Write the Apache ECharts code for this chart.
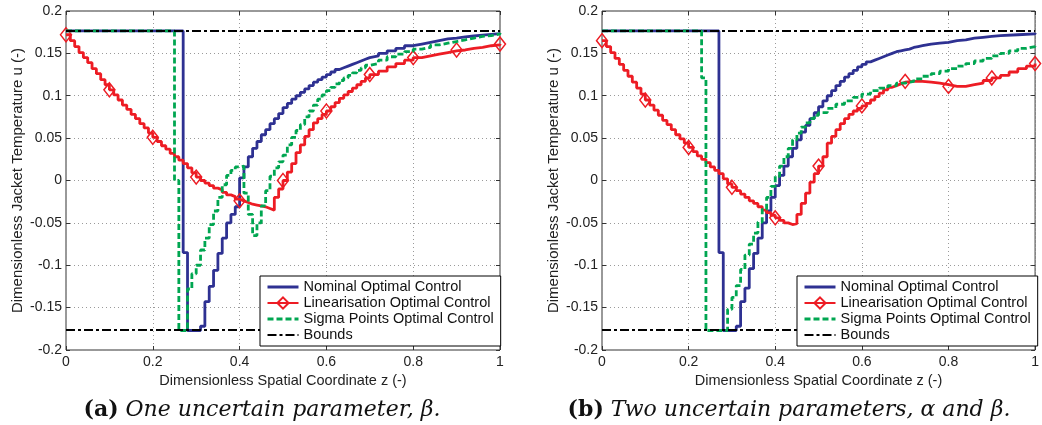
<!DOCTYPE html>
<html>
<head>
<meta charset="utf-8">
<script src="https://cdn.jsdelivr.net/npm/echarts@6/dist/echarts.min.js"></script>
<style>
    html, body { margin: 0; padding: 0; background: #fff; }
    #chart { width: 1042px; height: 425px; }
</style>
</head>
<body>
<div id="chart"></div>
<script>
// series names / legend
const seriesNames = ['Nominal Optimal Control', 'Linearisation Optimal Control', 'Sigma Points Optimal Control', 'Bounds'];
const xTicks = [0, 0.2, 0.4, 0.6, 0.8, 1];
const yTicks = [-0.2, -0.15, -0.1, -0.05, 0, 0.05, 0.1, 0.15, 0.2];
const captions = ['(a)|One uncertain parameter, β.', '(b)|Two uncertain parameters, α and β.'];
const bound = 0.1765;

// (a) one uncertain parameter -- [z, u], value held until next z
const nominalA = [[0,0.1765],[0.27,-0.085],[0.28,-0.177],[0.31,-0.172],[0.32,-0.143],[0.33,-0.125],[0.34,-0.106],
    [0.35,-0.086],[0.36,-0.068],[0.37,-0.05],[0.38,-0.04],[0.39,-0.031],[0.40,0.003],[0.41,0.016],[0.42,0.028],
    [0.43,0.038],[0.44,0.046],[0.45,0.054],[0.46,0.06],[0.47,0.067],[0.48,0.073],[0.49,0.079],[0.50,0.086],
    [0.51,0.091],[0.52,0.096],[0.53,0.100],[0.54,0.104],[0.55,0.108],[0.56,0.112],[0.57,0.116],[0.58,0.119],
    [0.59,0.122],[0.60,0.125],[0.61,0.128],[0.62,0.131],[0.63,0.133],[0.64,0.135],[0.65,0.137],[0.66,0.139],
    [0.67,0.141],[0.68,0.143],[0.69,0.145],[0.70,0.147],[0.72,0.150],[0.74,0.153],[0.76,0.156],[0.78,0.159],
    [0.80,0.161],[0.82,0.163],[0.84,0.165],[0.86,0.167],[0.88,0.168],[0.90,0.1695],[0.92,0.1705],[0.94,0.1715],
    [0.96,0.1725],[0.98,0.1733],[1.0,0.174]];
const linearA = [[0,0.172],[0.01,0.165],[0.02,0.158],[0.03,0.151],[0.04,0.145],[0.05,0.139],[0.06,0.132],[0.07,0.126],
    [0.08,0.119],[0.09,0.113],[0.1,0.107],[0.11,0.101],[0.12,0.095],[0.13,0.089],[0.14,0.084],[0.15,0.078],
    [0.16,0.073],[0.17,0.067],[0.18,0.062],[0.19,0.056],[0.2,0.051],[0.21,0.046],[0.22,0.041],[0.23,0.037],
    [0.24,0.032],[0.25,0.028],[0.26,0.024],[0.27,0.020],[0.28,0.015],[0.29,0.009],[0.3,0.004],[0.31,0.0],
    [0.32,-0.003],[0.33,-0.006],[0.34,-0.009],[0.35,-0.011],[0.36,-0.014],[0.37,-0.017],[0.38,-0.019],
    [0.39,-0.022],[0.4,-0.024],[0.41,-0.026],[0.42,-0.028],[0.43,-0.029],[0.44,-0.030],[0.45,-0.031],
    [0.46,-0.033],[0.47,-0.035],[0.48,-0.02],[0.49,-0.01],[0.5,0.0],[0.51,0.01],[0.52,0.02],[0.53,0.033],
    [0.54,0.042],[0.55,0.052],[0.56,0.06],[0.57,0.068],[0.58,0.073],[0.59,0.078],[0.6,0.082],[0.61,0.087],
    [0.62,0.092],[0.63,0.097],[0.64,0.101],[0.65,0.105],[0.66,0.109],[0.67,0.113],[0.68,0.117],[0.69,0.121],
    [0.7,0.125],[0.72,0.129],[0.74,0.134],[0.76,0.138],[0.78,0.142],[0.8,0.145],[0.82,0.147],[0.84,0.149],
    [0.86,0.151],[0.88,0.153],[0.9,0.154],[0.92,0.156],[0.94,0.157],[0.96,0.159],[0.98,0.160],[1.0,0.161]];
const sigmaA = [[0,0.1765],[0.25,0.0],[0.26,-0.177],[0.28,-0.128],[0.29,-0.11],[0.30,-0.1],[0.31,-0.082],
    [0.32,-0.068],[0.33,-0.052],[0.34,-0.036],[0.35,-0.02],[0.36,-0.005],[0.37,0.006],[0.38,0.012],[0.39,0.016],
    [0.40,0.017],[0.41,-0.015],[0.42,-0.04],[0.43,-0.065],[0.44,-0.05],[0.45,-0.03],[0.46,-0.012],[0.47,0.005],
    [0.48,0.015],[0.49,0.022],[0.50,0.03],[0.51,0.042],[0.52,0.051],[0.53,0.059],[0.54,0.066],[0.55,0.075],
    [0.56,0.082],[0.57,0.089],[0.58,0.096],[0.59,0.101],[0.60,0.106],[0.61,0.110],[0.62,0.114],[0.63,0.118],
    [0.64,0.121],[0.65,0.124],[0.66,0.127],[0.67,0.130],[0.68,0.133],[0.69,0.136],[0.70,0.138],[0.72,0.142],
    [0.74,0.146],[0.76,0.149],[0.78,0.152],[0.80,0.155],[0.82,0.157],[0.84,0.160],[0.86,0.162],[0.88,0.164],
    [0.90,0.166],[0.92,0.168],[0.94,0.170],[0.96,0.171],[0.98,0.173],[1.0,0.174]];

// (b) two uncertain parameters
const nominalB = [[0,0.1765],[0.27,-0.085],[0.28,-0.177],[0.31,-0.172],[0.32,-0.143],[0.33,-0.127],[0.34,-0.104],
    [0.35,-0.086],[0.36,-0.068],[0.37,-0.05],[0.38,-0.036],[0.39,-0.02],[0.40,-0.006],[0.41,0.006],[0.42,0.017],
    [0.43,0.028],[0.44,0.038],[0.45,0.048],[0.46,0.057],[0.47,0.065],[0.48,0.073],[0.49,0.080],[0.50,0.087],
    [0.51,0.094],[0.52,0.100],[0.53,0.106],[0.54,0.112],[0.55,0.117],[0.56,0.122],[0.57,0.126],[0.58,0.130],
    [0.59,0.134],[0.60,0.137],[0.61,0.140],[0.62,0.142],[0.63,0.144],[0.64,0.146],[0.65,0.148],[0.66,0.150],
    [0.67,0.152],[0.68,0.153],[0.69,0.154],[0.70,0.155],[0.71,0.157],[0.72,0.158],[0.73,0.159],[0.74,0.160],
    [0.75,0.161],[0.76,0.162],[0.78,0.163],[0.80,0.165],[0.82,0.166],[0.84,0.168],[0.86,0.169],[0.88,0.170],
    [0.90,0.171],[0.92,0.172],[0.96,0.173],[1.0,0.174]];
const linearB = [[0,0.165],[0.01,0.158],[0.02,0.151],[0.03,0.144],[0.04,0.137],[0.05,0.130],[0.06,0.123],[0.07,0.116],
    [0.08,0.109],[0.09,0.102],[0.1,0.095],[0.11,0.089],[0.12,0.083],[0.13,0.077],[0.14,0.071],[0.15,0.066],
    [0.16,0.060],[0.17,0.054],[0.18,0.049],[0.19,0.044],[0.2,0.039],[0.21,0.034],[0.22,0.029],[0.23,0.025],
    [0.24,0.021],[0.25,0.016],[0.26,0.012],[0.27,0.008],[0.28,0.002],[0.29,-0.004],[0.3,-0.008],[0.31,-0.012],
    [0.32,-0.016],[0.33,-0.020],[0.34,-0.024],[0.35,-0.027],[0.36,-0.031],[0.37,-0.035],[0.38,-0.038],
    [0.39,-0.041],[0.4,-0.044],[0.41,-0.047],[0.42,-0.050],[0.43,-0.052],[0.44,-0.051],[0.45,-0.04],
    [0.46,-0.027],[0.47,-0.015],[0.48,-0.002],[0.49,0.008],[0.5,0.017],[0.51,0.028],[0.52,0.044],[0.53,0.052],
    [0.54,0.060],[0.55,0.067],[0.56,0.073],[0.57,0.078],[0.58,0.082],[0.59,0.085],[0.6,0.088],[0.61,0.091],
    [0.62,0.095],[0.63,0.099],[0.64,0.103],[0.65,0.107],[0.66,0.110],[0.67,0.112],[0.68,0.114],[0.69,0.116],
    [0.7,0.117],[0.72,0.117],[0.74,0.116],[0.76,0.115],[0.78,0.113],[0.8,0.111],[0.82,0.111],[0.84,0.113],
    [0.86,0.115],[0.88,0.118],[0.9,0.121],[0.92,0.124],[0.94,0.128],[0.96,0.132],[0.98,0.135],[1.0,0.138]];
const sigmaB = [[0,0.1765],[0.23,0.121],[0.24,-0.177],[0.29,-0.152],[0.30,-0.138],[0.31,-0.124],[0.32,-0.105],
    [0.33,-0.088],[0.34,-0.075],[0.35,-0.062],[0.36,-0.049],[0.37,-0.034],[0.38,-0.02],[0.39,-0.007],[0.40,0.005],
    [0.41,0.017],[0.42,0.028],[0.43,0.038],[0.44,0.048],[0.45,0.056],[0.46,0.063],[0.47,0.068],[0.48,0.073],
    [0.49,0.077],[0.50,0.080],[0.52,0.085],[0.54,0.090],[0.56,0.094],[0.58,0.098],[0.60,0.102],[0.62,0.106],
    [0.64,0.109],[0.66,0.112],[0.68,0.115],[0.70,0.117],[0.72,0.120],[0.74,0.123],[0.76,0.126],[0.78,0.129],
    [0.80,0.132],[0.82,0.135],[0.84,0.138],[0.86,0.141],[0.88,0.144],[0.90,0.147],[0.92,0.150],[0.94,0.153],
    [0.96,0.156],[0.98,0.158],[1.0,0.161]];

const BLUE = '#2e3192', RED = '#ed1c24', GREEN = '#00a651';
const SANS = '"Liberation Sans", Arial, sans-serif';

const chart = echarts.init(document.getElementById('chart'));

const gridPos = [{left: 66, top: 11, width: 434, height: 339}, {left: 602, top: 11, width: 434, height: 339}];

function xAx(gi, pos) {
    const main = pos === 'bottom';
    return {
        type: 'value', gridIndex: gi, position: pos, min: xTicks[0], max: xTicks[xTicks.length - 1], interval: 0.2,
        name: main ? 'Dimensionless Spatial Coordinate z (-)' : '', nameLocation: 'middle', nameGap: 19,
        nameTextStyle: {fontFamily: SANS, fontSize: 14.5, color: '#222'},
        axisLine: {show: false, onZero: false},
        axisTick: {show: true, inside: true, length: 4, lineStyle: {color: '#333'}},
        axisLabel: {show: main, margin: 5, fontFamily: SANS, fontSize: 14, color: '#222'},
        splitLine: {show: main, lineStyle: {color: '#9a9a9a', type: [1, 3], width: 1}}
    };
}
function yAx(gi, pos) {
    const main = pos === 'left';
    return {
        type: 'value', gridIndex: gi, position: pos, min: yTicks[0], max: yTicks[yTicks.length - 1], interval: 0.05,
        name: main ? 'Dimensionless Jacket Temperature u (-)' : '', nameLocation: 'middle', nameGap: 41,
        nameTextStyle: {fontFamily: SANS, fontSize: 15, color: '#222'},
        axisLine: {show: false, onZero: false},
        axisTick: {show: true, inside: true, length: 4, lineStyle: {color: '#333'}},
        axisLabel: {show: main, margin: 4, fontFamily: SANS, fontSize: 14, color: '#222'},
        splitLine: {show: main, lineStyle: {color: '#9a9a9a', type: [1, 3], width: 1}}
    };
}

function isMarker(v) {
    return Math.abs(v[0] * 10 - Math.round(v[0] * 10)) < 1e-6;
}

function buildSeries(gi, nominal, linear, sigma) {
    const xs = [0, 1];
    return [
        {name: seriesNames[0], type: 'line', xAxisIndex: gi, yAxisIndex: gi, data: nominal, step: 'end',
            symbol: 'none', lineStyle: {color: BLUE, width: 2.8}, itemStyle: {color: BLUE}, z: 2},
        {name: seriesNames[1], type: 'line', xAxisIndex: gi, yAxisIndex: gi, data: linear, step: 'end',
            symbol: 'diamond', showSymbol: true, showAllSymbol: true,
            symbolSize: function (v) { return isMarker(v) ? [11, 14] : 0; },
            lineStyle: {color: RED, width: 2.8},
            itemStyle: {color: 'rgba(255,255,255,0)', borderColor: RED, borderWidth: 1.5}, z: 3},
        {name: seriesNames[2], type: 'line', xAxisIndex: gi, yAxisIndex: gi, data: sigma, step: 'end',
            symbol: 'none', lineStyle: {color: GREEN, width: 2.8, type: [6, 3]}, itemStyle: {color: GREEN}, z: 4},
        {name: seriesNames[3], type: 'line', xAxisIndex: gi, yAxisIndex: gi, data: xs.map(x => [x, bound]),
            symbol: 'none', lineStyle: {color: '#000', width: 2, type: [9, 3, 3, 3]}, itemStyle: {color: '#000'}, z: 5},
        {name: seriesNames[3], type: 'line', xAxisIndex: gi, yAxisIndex: gi, data: xs.map(x => [x, -bound]),
            symbol: 'none', lineStyle: {color: '#000', width: 2, type: [9, 3, 3, 3]}, itemStyle: {color: '#000'}, z: 5}
    ];
}

function legendAt(left) {
    const noMark = {color: 'rgba(0,0,0,0)', borderWidth: 0, opacity: 0};
    const widths = [3, 2, 3, 2];
    return {
        left: left, top: 276, orient: 'vertical', z: 20,
        data: seriesNames.map((n, i) => i === 1
            ? {name: n, lineStyle: {width: widths[i]}}
            : {name: n, itemStyle: noMark, lineStyle: {width: widths[i]}}),
        backgroundColor: '#fff', borderColor: '#000', borderWidth: 1, borderRadius: 0,
        padding: [3, 7, 3, 6], itemWidth: 31, itemHeight: 14, itemGap: 0,
        selectedMode: false,
        textStyle: {fontFamily: SANS, fontSize: 14.5, color: '#111', lineHeight: 16}
    };
}

function caption(cx, text) {
    const parts = text.split('|');
    const SERIF = '"DejaVu Serif", "Liberation Serif", serif';
    return {
        type: 'text', x: cx, y: 410,
        style: {
            text: '{b|' + parts[0] + '} {i|' + parts[1] + '}',
            align: 'center', verticalAlign: 'middle',
            fontFamily: SERIF, fontSize: 22, fill: '#111',
            rich: {
                b: {fontWeight: 'bold', fontFamily: SERIF, fontSize: 22},
                i: {fontStyle: 'italic', fontFamily: SERIF, fontSize: 22}
            }
        }
    };
}

const option = {
    animation: false,
    backgroundColor: '#fff',
    grid: gridPos.map(g => Object.assign({show: true, borderColor: '#333', borderWidth: 1, backgroundColor: 'transparent'}, g)),
    xAxis: [xAx(0, 'bottom'), xAx(1, 'bottom'), xAx(0, 'top'), xAx(1, 'top')],
    yAxis: [yAx(0, 'left'), yAx(1, 'left'), yAx(0, 'right'), yAx(1, 'right')],
    legend: [legendAt(260), legendAt(797)],
    series: buildSeries(0, nominalA, linearA, sigmaA).concat(buildSeries(1, nominalB, linearB, sigmaB)),
    graphic: [caption(262, captions[0]), caption(789, captions[1])]
};

chart.setOption(option);
</script>
</body>
</html>
